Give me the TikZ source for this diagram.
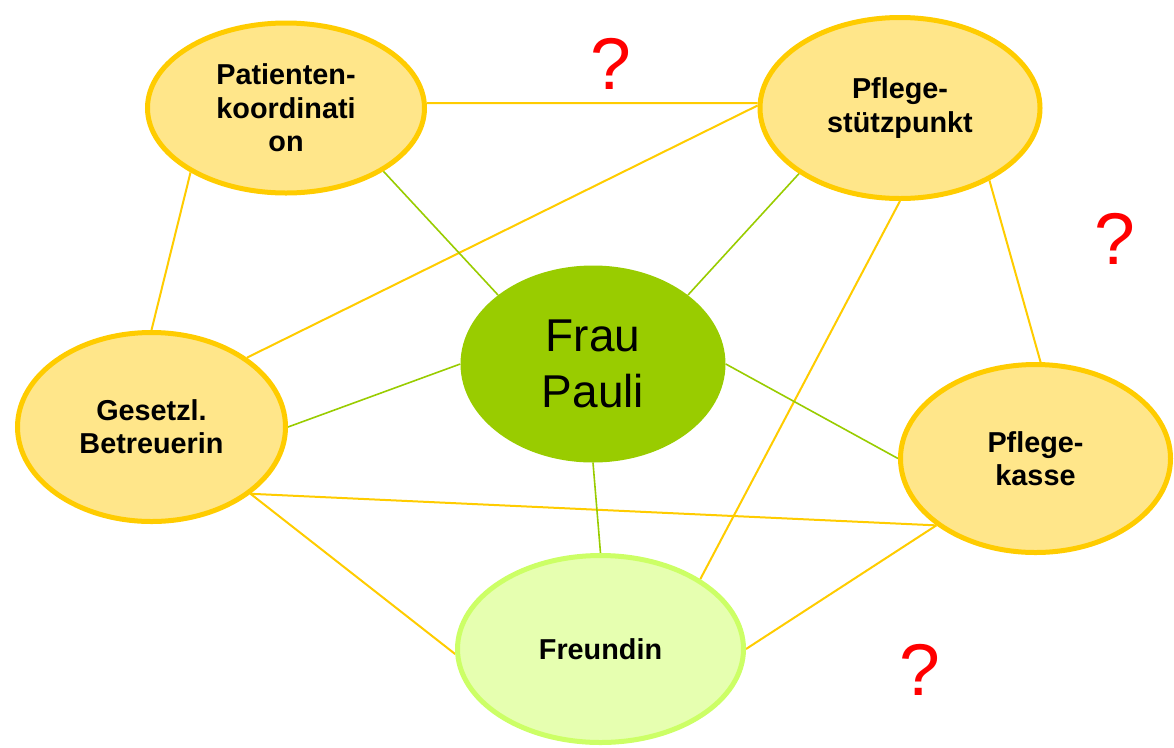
\documentclass[tikz,border=0pt]{standalone}
\usepackage{fontspec}
\setmainfont{Liberation Sans}
\usetikzlibrary{shapes.geometric,backgrounds}
\definecolor{ygold}{HTML}{FFCC00}
\definecolor{yfill}{HTML}{FFE68A}
\definecolor{gline}{HTML}{99CC00}
\definecolor{gfill}{HTML}{99CC00}
\definecolor{lgborder}{HTML}{CCFF66}
\definecolor{lgfill}{HTML}{E6FFB0}
\definecolor{qred}{HTML}{FF0000}
\begin{document}
\begin{tikzpicture}[x=0.75pt,y=-0.75pt,
  yell/.style={ellipse,draw=ygold,line width=3.75pt,fill=yfill,align=center,inner sep=0pt,
    font=\fontsize{21.6}{25}\selectfont\bfseries},
  lgell/.style={ellipse,draw=lgborder,line width=3.75pt,fill=lgfill,align=center,inner sep=0pt,
    font=\fontsize{21.6}{25}\selectfont\bfseries},
  center/.style={ellipse,fill=gfill,align=center,inner sep=0pt,
    font=\fontsize{34.5}{42}\selectfont},
  yline/.style={draw=ygold,line width=1.5pt},
  gconn/.style={draw=gline,line width=1.2pt},
  qmark/.style={text=qred,font=\fontsize{55}{60}\selectfont,inner sep=0pt}
]
\useasboundingbox (0,0) rectangle (1174,747);

\node[yell,minimum width=207.75pt,minimum height=127.5pt] (pat) at (286,108) {Patienten-\\koordinati\\on};
\node[yell,minimum width=210pt,minimum height=135.75pt] (pfl) at (900,108) {Pflege-\\stützpunkt};
\node[center,minimum width=198.75pt,minimum height=147.75pt] (pau) at (593,364) {Frau\\Pauli};
\node[yell,minimum width=201pt,minimum height=141.75pt] (ges) at (151.5,427) {Gesetzl.\\Betreuerin};
\node[yell,minimum width=202.5pt,minimum height=141pt] (kas) at (1035.5,458.5) {Pflege-\\kasse};
\node[lgell,minimum width=214.5pt,minimum height=140.25pt] (fre) at (600.5,649) {Freundin};

\node[qmark] (q1) at (611,64) {?};
\node[qmark] (q2) at (1115,239) {?};
\node[qmark] (q3) at (920,670) {?};

\begin{scope}[on background layer]
  \draw[yline] (pat.2) -- (pfl.178);
  \draw[yline] (pat.214) -- (ges.north);
  \draw[yline] (pfl.179) -- (ges.36);
  \draw[yline] (pfl.321) -- (kas.87);
  \draw[yline] (pfl.south) -- (fre.35);
  \draw[yline] (ges.326) -- (kas.214);
  \draw[yline] (ges.326) -- (fre.182);
  \draw[yline] (kas.214) -- (fre.east);
  \draw[gconn] (pau.144) -- (pat.327);
  \draw[gconn] (pau.36) -- (pfl.213);
  \draw[gconn] (pau.west) -- (ges.east);
  \draw[gconn] (pau.east) -- (kas.west);
  \draw[gconn] (pau.south) -- (fre.north);
\end{scope}
\end{tikzpicture}
\end{document}
